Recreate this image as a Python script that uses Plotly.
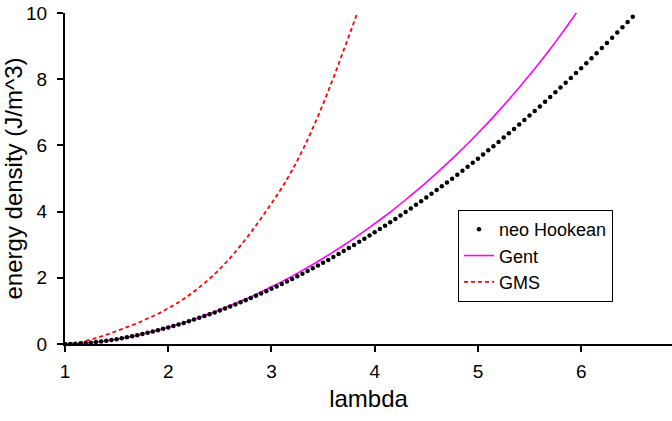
import plotly.graph_objects as go

# ---- data ----
neo_lambda = [round(1 + 0.05 * i, 2) for i in range(111)]
neo_energy = [
    0.000, 0.002, 0.007, 0.015, 0.027, 0.041, 0.057, 0.076, 0.097, 0.120,
    0.146, 0.173, 0.203, 0.234, 0.267, 0.301, 0.338, 0.376, 0.416, 0.457,
    0.500, 0.545, 0.591, 0.638, 0.687, 0.738, 0.790, 0.843, 0.898, 0.955,
    1.013, 1.072, 1.132, 1.194, 1.258, 1.322, 1.389, 1.456, 1.525, 1.595,
    1.667, 1.740, 1.814, 1.889, 1.966, 2.044, 2.124, 2.205, 2.287, 2.371,
    2.455, 2.541, 2.629, 2.718, 2.808, 2.899, 2.992, 3.086, 3.181, 3.277,
    3.375, 3.474, 3.574, 3.676, 3.779, 3.883, 3.989, 4.096, 4.204, 4.313,
    4.424, 4.536, 4.649, 4.763, 4.879, 4.996, 5.114, 5.234, 5.355, 5.477,
    5.600, 5.725, 5.851, 5.978, 6.106, 6.236, 6.367, 6.499, 6.633, 6.767,
    6.903, 7.041, 7.179, 7.319, 7.460, 7.603, 7.746, 7.891, 8.037, 8.185,
    8.333, 8.483, 8.634, 8.787, 8.941, 9.096, 9.252, 9.409, 9.568, 9.728,
    9.889,
]

gent_lambda = [1.0, 1.1, 1.2, 1.3, 1.4, 1.5, 1.6, 1.7, 1.8, 1.9,
               2.0, 2.1, 2.2, 2.3, 2.4, 2.5, 2.6, 2.7, 2.8, 2.9,
               3.0, 3.1, 3.2, 3.3, 3.4, 3.5, 3.6, 3.7, 3.8, 3.9,
               4.0, 4.1, 4.2, 4.3, 4.4, 4.5, 4.6, 4.7, 4.8, 4.9,
               5.0, 5.1, 5.2, 5.3, 5.4, 5.5, 5.6, 5.7, 5.8, 5.9, 6.0]
gent_energy = [0.000, 0.007, 0.027, 0.057, 0.097, 0.146, 0.203, 0.268, 0.340, 0.419,
               0.505, 0.598, 0.697, 0.803, 0.915, 1.034, 1.160, 1.291, 1.430, 1.575,
               1.727, 1.885, 2.051, 2.223, 2.402, 2.589, 2.783, 2.984, 3.193, 3.410,
               3.634, 3.867, 4.108, 4.358, 4.616, 4.884, 5.161, 5.447, 5.744, 6.050,
               6.367, 6.695, 7.035, 7.386, 7.749, 8.124, 8.513, 8.915, 9.332, 9.764,
               10.211]

gms_lambda = [1.0, 1.1, 1.2, 1.3, 1.4, 1.5, 1.6, 1.7, 1.8, 1.9,
              2.0, 2.1, 2.2, 2.3, 2.4, 2.5, 2.6, 2.7, 2.8, 2.9,
              3.0, 3.1, 3.2, 3.3, 3.4, 3.5, 3.6, 3.7, 3.8, 3.9]
gms_energy = [0.00, 0.03, 0.09, 0.18, 0.28, 0.39, 0.51, 0.63, 0.77, 0.91,
              1.08, 1.26, 1.47, 1.71, 1.97, 2.27, 2.60, 2.97, 3.37, 3.80,
              4.25, 4.72, 5.25, 5.85, 6.52, 7.25, 8.04, 8.88, 9.73, 10.60]

x_ticks = [1, 2, 3, 4, 5, 6]
y_ticks = [0, 2, 4, 6, 8, 10]

FONT = "Liberation Sans, Arial, sans-serif"

fig = go.Figure()
fig.add_trace(go.Scatter(
    x=gent_lambda, y=gent_energy, name="Gent", mode="lines",
    line=dict(color="#FF00FF", width=1.6, shape="spline"),
    legendrank=2,
))
fig.add_trace(go.Scatter(
    x=gms_lambda, y=gms_energy, name="GMS", mode="lines",
    line=dict(color="#FF0000", width=1.8, dash="4px,3px", shape="spline"),
    legendrank=3,
))
fig.add_trace(go.Scatter(
    x=neo_lambda, y=neo_energy, name="neo Hookean", mode="markers",
    marker=dict(color="black", size=4.5),
    cliponaxis=False, legendrank=1,
))

fig.update_layout(
    width=672, height=421,
    margin=dict(l=65, r=0, t=13, b=77),
    paper_bgcolor="white", plot_bgcolor="white",
    font=dict(family=FONT, size=19, color="black"),
    showlegend=True,
    legend=dict(
        x=0.6474, y=0.405, xanchor="left", yanchor="top",
        bgcolor="white", bordercolor="black", borderwidth=1,
        font=dict(family=FONT, size=18, color="black"),
        tracegroupgap=0,
    ),
    xaxis=dict(
        range=[1, 6.88], tickvals=x_ticks, ticktext=[str(v) for v in x_ticks],
        showgrid=False, zeroline=False,
        showline=True, linecolor="black", linewidth=2,
        ticks="outside", ticklen=6, tickwidth=1.5, tickcolor="black",
        ticklabelstandoff=3,
        title=dict(text="lambda", font=dict(family=FONT, size=24), standoff=9),
    ),
    yaxis=dict(
        range=[0, 10], tickvals=y_ticks, ticktext=[str(v) for v in y_ticks],
        showgrid=False, zeroline=False,
        showline=True, linecolor="black", linewidth=2,
        ticks="outside", ticklen=6, tickwidth=1.5, tickcolor="black",
        ticklabelstandoff=6,
        title=dict(text="energy density (J/m^3)", font=dict(family=FONT, size=24), standoff=2),
    ),
)

fig.write_html("out.html", config={"displayModeBar": False},
               post_script="document.body.style.margin='0px';")
